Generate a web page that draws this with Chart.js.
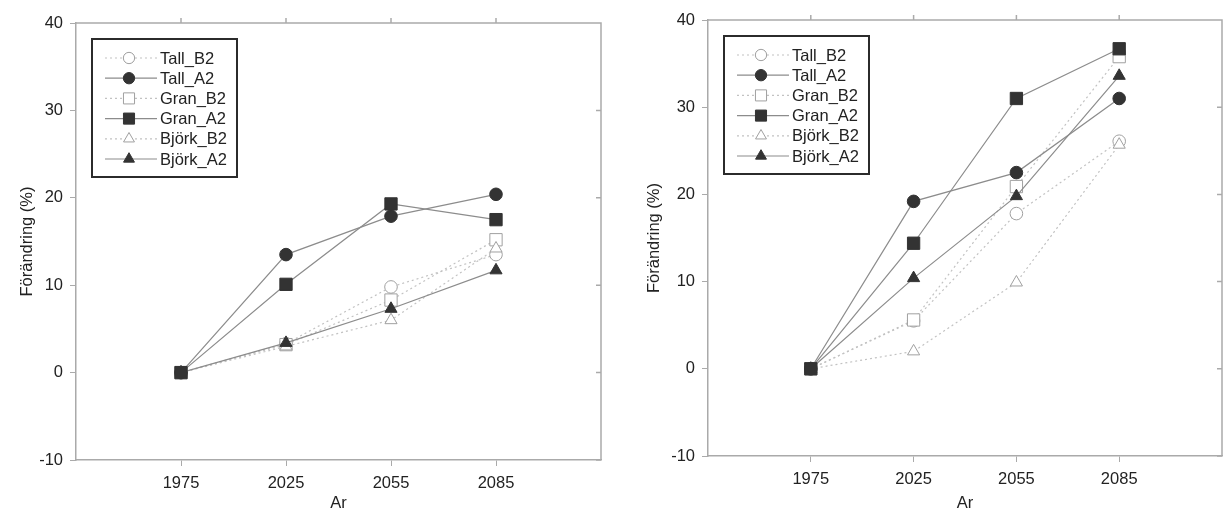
<!DOCTYPE html>
<html>
<head>
<meta charset="utf-8">
<script src="https://cdn.jsdelivr.net/npm/chart.js@4.4.1/dist/chart.umd.min.js"></script>
<style>
  html, body { margin: 0; padding: 0; background: #fff; overflow: hidden; }
  canvas { position: absolute; top: 0; }
  #chartLeft { left: 0; }
  #chartRight { left: 612px; }
</style>
</head>
<body>
<canvas id="chartLeft" width="612" height="513"></canvas>
<canvas id="chartRight" width="611" height="513"></canvas>
<script>
const years = ['1975', '2025', '2055', '2085'];
const yTicks = [-10, 0, 10, 20, 30, 40];

// left panel
const tallB2Left  = [0, 3.3, 9.8, 13.5];
const tallA2Left  = [0, 13.5, 17.9, 20.4];
const granB2Left  = [0, 3.2, 8.3, 15.2];
const granA2Left  = [0, 10.1, 19.3, 17.5];
const bjorkB2Left = [0, 3.0, 6.0, 14.2];
const bjorkA2Left = [0, 3.4, 7.3, 11.7];

// right panel
const tallB2Right  = [0, 5.5, 17.8, 26.1];
const tallA2Right  = [0, 19.2, 22.5, 31.0];
const granB2Right  = [0, 5.6, 20.9, 35.8];
const granA2Right  = [0, 14.4, 31.0, 36.7];
const bjorkB2Right = [0, 2.0, 9.9, 25.7];
const bjorkA2Right = [0, 10.4, 19.8, 33.6];

const FONT = "'Liberation Sans', Arial, sans-serif";
const TEXT = '#222';

// B2 = open markers on dotted light lines, A2 = filled markers on solid lines
const styles = [
  { label: 'Tall_B2',  point: 'circle',   r: 6.3, fill: '#fff', edge: '#a0a0a0', line: '#c2c2c2', dash: [2, 3], order: 5 },
  { label: 'Tall_A2',  point: 'circle',   r: 6.3, fill: '#333', edge: '#333',    line: '#8c8c8c', dash: [],     order: 2 },
  { label: 'Gran_B2',  point: 'rect',     r: 8.7, fill: '#fff', edge: '#a0a0a0', line: '#c2c2c2', dash: [2, 3], order: 4 },
  { label: 'Gran_A2',  point: 'rect',     r: 8.7, fill: '#333', edge: '#333',    line: '#8c8c8c', dash: [],     order: 0 },
  { label: 'Björk_B2', point: 'triangle', r: 7,   fill: '#fff', edge: '#a0a0a0', line: '#c2c2c2', dash: [2, 3], order: 3 },
  { label: 'Björk_A2', point: 'triangle', r: 7,   fill: '#333', edge: '#333',    line: '#8c8c8c', dash: [],     order: 1 }
];

function buildDatasets(series) {
  return series.map((vals, k) => {
    const s = styles[k];
    return {
      label: s.label,
      data: years.map((_, i) => ({ x: i, y: vals[i] })),
      borderColor: s.line,
      borderWidth: 1.2,
      borderDash: s.dash,
      pointStyle: s.point,
      pointRadius: s.r,
      pointBackgroundColor: s.fill,
      pointBorderColor: s.edge,
      pointBorderWidth: 1,
      tension: 0,
      order: s.order
    };
  });
}

// top/right edges of the plot box with small tick marks
const frame = {
  id: 'frame',
  beforeDatasetsDraw(chart) {
    const { ctx, chartArea: a, scales } = chart;
    ctx.save();
    ctx.strokeStyle = '#aaa';
    ctx.lineWidth = 1.5;
    ctx.beginPath();
    ctx.moveTo(a.left, a.top);
    ctx.lineTo(a.right, a.top);
    ctx.lineTo(a.right, a.bottom);
    years.forEach((_, i) => {
      const px = scales.x.getPixelForValue(i);
      ctx.moveTo(px, a.top);
      ctx.lineTo(px, a.top - 5);
    });
    yTicks.forEach(v => {
      const py = scales.y.getPixelForValue(v);
      ctx.moveTo(a.right, py);
      ctx.lineTo(a.right - 5, py);
    });
    ctx.stroke();
    ctx.restore();
  }
};

// boxed legend in the upper left of the plot
const boxLegend = {
  id: 'boxLegend',
  afterDraw(chart, args, opts) {
    const ctx = chart.ctx;
    const x0 = chart.chartArea.left + opts.dx;
    const y0 = chart.chartArea.top + opts.dy;
    const w = 145, h = 138;
    ctx.save();
    ctx.fillStyle = '#fff';
    ctx.fillRect(x0, y0, w, h);
    ctx.lineWidth = 2;
    ctx.strokeStyle = '#2b2b2b';
    ctx.strokeRect(x0, y0, w, h);
    chart.data.datasets.forEach((ds, i) => {
      const y = y0 + 19 + i * 20.2;
      ctx.strokeStyle = ds.borderColor;
      ctx.lineWidth = ds.borderWidth;
      ctx.setLineDash(ds.borderDash);
      ctx.beginPath();
      ctx.moveTo(x0 + 13, y);
      ctx.lineTo(x0 + 65, y);
      ctx.stroke();
      ctx.setLineDash([]);
      ctx.fillStyle = ds.pointBackgroundColor;
      ctx.strokeStyle = ds.pointBorderColor;
      ctx.lineWidth = 1;
      Chart.helpers.drawPoint(ctx, { pointStyle: ds.pointStyle, radius: ds.pointRadius * 0.9, borderWidth: 1 }, x0 + 37, y);
      ctx.fillStyle = TEXT;
      ctx.font = '16.5px ' + FONT;
      ctx.textBaseline = 'middle';
      ctx.textAlign = 'left';
      ctx.fillText(ds.label, x0 + 68, y + 1);
    });
    ctx.restore();
  }
};

function makeChart(id, series, lay) {
  return new Chart(document.getElementById(id), {
    type: 'line',
    data: { datasets: buildDatasets(series) },
    plugins: [frame, boxLegend],
    options: {
      responsive: false,
      animation: false,
      layout: {
        autoPadding: false,
        padding: { top: lay.top, right: lay.right, left: 0, bottom: 0 }
      },
      plugins: {
        legend: { display: false },
        tooltip: { enabled: false },
        boxLegend: { dx: 16, dy: 16 }
      },
      scales: {
        x: {
          type: 'linear',
          min: -1,
          max: 4,
          afterBuildTicks: s => { s.ticks = years.map((_, i) => ({ value: i })); },
          afterFit: s => {
            s.height = lay.xHeight;
            s.paddingLeft = 0;
            s.paddingRight = 0;
          },
          ticks: {
            callback: v => years[v],
            color: TEXT,
            padding: 8,
            font: { family: FONT, size: 16.5 }
          },
          grid: { drawOnChartArea: false, tickLength: 6, color: '#aaa' },
          border: { color: '#aaa', width: 1.5 },
          title: {
            display: true,
            text: 'Ar',
            color: TEXT,
            padding: 0,
            font: { family: FONT, size: 16.5 }
          }
        },
        y: {
          min: -10,
          max: 40,
          afterBuildTicks: s => { s.ticks = yTicks.map(v => ({ value: v })); },
          afterFit: s => { s.width = lay.yWidth; },
          ticks: {
            color: TEXT,
            padding: 7,
            font: { family: FONT, size: 16.5 }
          },
          grid: { drawOnChartArea: false, tickLength: 6, color: '#aaa' },
          border: { color: '#aaa', width: 1.5 },
          title: {
            display: true,
            text: 'Förändring (%)',
            color: TEXT,
            padding: { top: lay.titlePad, bottom: 0 },
            font: { family: FONT, size: 16.5 }
          }
        }
      }
    }
  });
}

makeChart('chartLeft',
  [tallB2Left, tallA2Left, granB2Left, granA2Left, bjorkB2Left, bjorkA2Left],
  { top: 23, right: 11, xHeight: 53, yWidth: 76, titlePad: 18 });

makeChart('chartRight',
  [tallB2Right, tallA2Right, granB2Right, granA2Right, bjorkB2Right, bjorkA2Right],
  { top: 20, right: 1, xHeight: 57, yWidth: 96, titlePad: 33 });
</script>
</body>
</html>
